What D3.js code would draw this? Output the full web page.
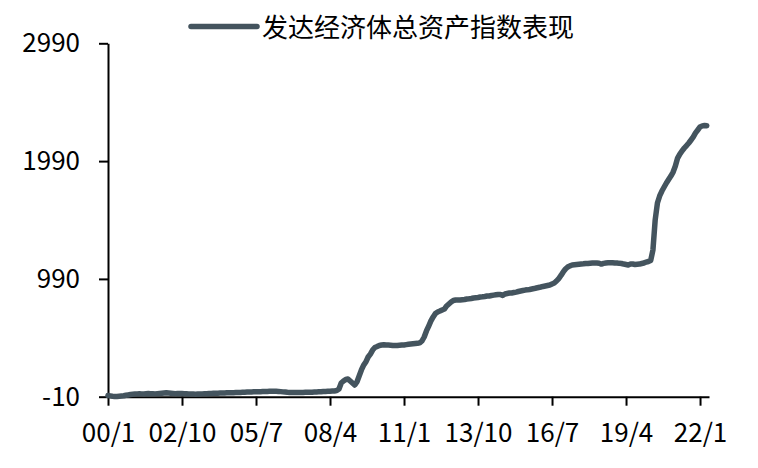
<!DOCTYPE html>
<html><head><meta charset="utf-8">
<script src="https://cdn.jsdelivr.net/npm/d3@7"></script>
<style>
html,body{margin:0;padding:0;background:#fff;}
svg text{font-family:"Noto Sans CJK SC","Noto Sans",sans-serif;fill:#000;}
</style></head>
<body>
<svg id="chart" width="758" height="468"></svg>
<script>
const seriesName = "发达经济体总资产指数表现";
const startYear = 2000;
// monthly values, Jan 2000 – Apr 2022
const values2000 = [0,-3,-6,-8,-8,-6,-4,-2,2,5,8,10];
const values2001 = [12,14,15,14,13,15,17,16,15,14,16,18];
const values2002 = [20,22,24,22,20,18,16,17,18,17,16,15];
const values2003 = [14,13,12,11,12,13,14,15,16,17,18,19];
const values2004 = [20,20,21,22,22,23,23,24,24,25,25,26];
const values2005 = [27,28,29,30,30,31,32,33,33,34,35,35];
const values2006 = [36,37,37,36,35,33,31,29,27,26,25,25];
const values2007 = [25,25,26,26,27,27,28,28,29,30,31,32];
const values2008 = [34,35,36,37,38,39,42,55,106,123,136,140];
const values2009 = [123,106,89,115,166,217,259,285,327,352,386,408];
const values2010 = [416,425,429,431,429,428,427,425,425,424,426,428];
const values2011 = [429,432,435,437,439,441,443,447,463,497,548,590];
const values2012 = [633,667,696,709,717,726,734,760,777,794,807,811];
const values2013 = [811,811,813,815,819,821,824,828,830,832,836,838];
const values2014 = [841,845,845,849,852,855,858,858,850,862,866,870];
const values2015 = [870,874,878,883,887,891,895,897,900,904,908,913];
const values2016 = [917,921,926,930,934,938,947,955,972,993,1019,1049];
const values2017 = [1074,1091,1101,1108,1110,1112,1114,1116,1118,1121,1121,1123];
const values2018 = [1125,1125,1125,1123,1116,1122,1125,1127,1128,1127,1125,1125];
const values2019 = [1122,1121,1116,1112,1108,1116,1116,1112,1114,1116,1121,1125];
const values2020 = [1133,1138,1146,1235,1490,1634,1694,1736,1770,1804,1834,1863];
const values2021 = [1897,1948,2016,2050,2076,2101,2122,2144,2169,2195,2229,2254];
const values2022 = [2280,2289,2292,2290];

const yTicks = [-10, 990, 1990, 2990];
const yTickLabels = ["-10","990","1990","2990"];
const xTickLabels = ["00/1","02/10","05/7","08/4","11/1","13/10","16/7","19/4","22/1"];
const xTickMonths = [0,33,66,99,132,165,198,231,264];

const allValues = [].concat(values2000,values2001,values2002,values2003,values2004,values2005,
  values2006,values2007,values2008,values2009,values2010,values2011,values2012,values2013,
  values2014,values2015,values2016,values2017,values2018,values2019,values2020,values2021,values2022);
const data = allValues.map((v,i)=>({m:i, v:v}));

const svg = d3.select("#chart");
const x = d3.scaleLinear().domain([0,268]).range([108,709]);
const y = d3.scaleLinear().domain([-10,2990]).range([396.7,43.3]);

const xAxis = d3.axisBottom(x).tickValues(xTickMonths)
  .tickFormat((d,i)=>xTickLabels[i]).tickSize(9).tickPadding(18).tickSizeOuter(0);
const yAxis = d3.axisLeft(y).tickValues(yTicks).tickFormat((d,i)=>yTickLabels[i])
  .tickSize(9).tickPadding(19).tickSizeOuter(0);

const gx = svg.append("g").attr("transform","translate(0,396.7)").call(xAxis);
const gy = svg.append("g").attr("transform","translate(108,0)").call(yAxis);
[gx,gy].forEach(g=>{
  g.select(".domain").attr("stroke","#000").attr("stroke-width",2);
  g.selectAll(".tick line").attr("stroke","#000").attr("stroke-width",2);
  g.selectAll(".tick text").attr("font-size",26).attr("fill","#000")
   .attr("font-family","\"Noto Sans CJK SC\",\"Noto Sans\",sans-serif");
});

const line = d3.line().x(d=>x(d.m)).y(d=>y(d.v)).curve(d3.curveLinear);
svg.append("path").datum(data).attr("d",line)
  .attr("fill","none").attr("stroke","#44545e").attr("stroke-width",5.5)
  .attr("stroke-linejoin","round").attr("stroke-linecap","round");

// legend
const lg = svg.append("g");
lg.append("line").attr("x1",191).attr("x2",257).attr("y1",26.5).attr("y2",26.5)
  .attr("stroke","#44545e").attr("stroke-width",5.5).attr("stroke-linecap","round");
lg.append("text").attr("x",262).attr("y",28).attr("dy","0.35em")
  .attr("font-size",26).text(seriesName);
</script>
</body></html>
